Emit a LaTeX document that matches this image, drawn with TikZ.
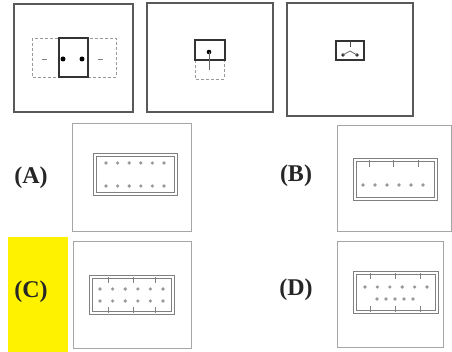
\documentclass[tikz,border=0pt]{standalone}
\usepackage{fontspec}
\setmainfont{Liberation Serif}
\usetikzlibrary{positioning}

\begin{document}
\begin{tikzpicture}[x=1pt, y=-1pt,
    panel/.style = {draw=black!65, line width=2pt},
    choice/.style = {draw=black!35, line width=1pt},
    grid/.style = {draw=black!40, densely dashed, line width=0.6pt},
    chip/.style = {draw=black!50, double=white, double distance=1.6pt, line width=0.8pt},
    pin/.style = {fill=black!40},
    tick/.style = {draw=black!50, line width=0.8pt},
    tag/.style = {font=\fontsize{24}{24}\selectfont\bfseries, text=black!85, inner sep=0pt},
    ]
\useasboundingbox (0,0) rectangle (452,352);
\fill[white] (0,0) rectangle (452,352);
\fill[yellow] (8,237) rectangle (68,352);

% top row
\draw[panel] (14,4) rectangle (133,112);
\draw[grid] (32,38) rectangle (116,77);
\draw[line width=1.6pt, black!80] (59,38) rectangle (88,77);
\fill[black] (63,59) circle (2.5pt) (82,59) circle (2.5pt);
\draw[black!50, line width=0.8pt] (42,59) -- (47,59) (98,59) -- (103,59);

\draw[panel] (147,3) rectangle (273,112);
\draw[grid] (195,60) rectangle (224,79);
\draw[line width=1.4pt, black!80] (195,40) rectangle (225,60);
\fill[black] (209,52) circle (2.3pt);
\draw[black!60, line width=0.8pt] (209,52) -- (209,70);

\draw[panel] (287,3) rectangle (413,116);
\draw[line width=1.2pt, black!80] (336,41) rectangle (364,60);
\draw[black!70, line width=0.8pt] (350,41) -- (350,47);
\fill[black!80] (343,55) circle (1.8pt) (357,55) circle (1.8pt);
\draw[black!60, line width=0.8pt] (343,55) -- (350,51) -- (357,55);

% answer choices
\node[tag] (tagA) at (31,178) {(A)};
\node[tag] (tagB) at (296,176) {(B)};
\node[tag] (tagC) at (31,292) {(C)};
\node[tag] (tagD) at (296,290) {(D)};

% (A)
\draw[choice] (72,124) rectangle (191,232);
\draw[chip] (95,155) rectangle (176,194);
\foreach \i in {0,...,5} {
  \fill[pin] (106+11.6*\i,163) circle (1.8pt);
  \fill[pin] (106+11.6*\i,186) circle (1.8pt);
}

% (B)
\draw[choice] (337,126) rectangle (451,232);
\draw[chip] (355,160) rectangle (436,199);
\foreach \x in {369,393,418}
  \draw[tick] (\x,160) -- (\x,167);
\foreach \i in {0,...,5}
  \fill[pin] (363+12*\i,185) circle (1.8pt);

% (C)
\draw[choice] (73,242) rectangle (191,348);
\draw[chip] (91,277) rectangle (173,313);
\foreach \x in {108,133,155} {
  \draw[tick] (\x,277) -- (\x,283);
  \draw[tick] (\x,313) -- (\x,307);
}
\foreach \i in {0,...,5} {
  \fill[pin] (100+12.6*\i,289) circle (1.8pt);
  \fill[pin] (100+12.6*\i,301) circle (1.8pt);
}

% (D)
\draw[choice] (337,242) rectangle (443,347);
\draw[chip] (355,273) rectangle (437,312);
\foreach \x in {370,395,420} {
  \draw[tick] (\x,273) -- (\x,279);
  \draw[tick] (\x,312) -- (\x,306);
}
\foreach \i in {0,...,5}
  \fill[pin] (365+12.4*\i,287) circle (1.8pt);
\foreach \i in {0,...,4}
  \fill[pin] (377+9*\i,299) circle (1.8pt);
\end{tikzpicture}
\end{document}
